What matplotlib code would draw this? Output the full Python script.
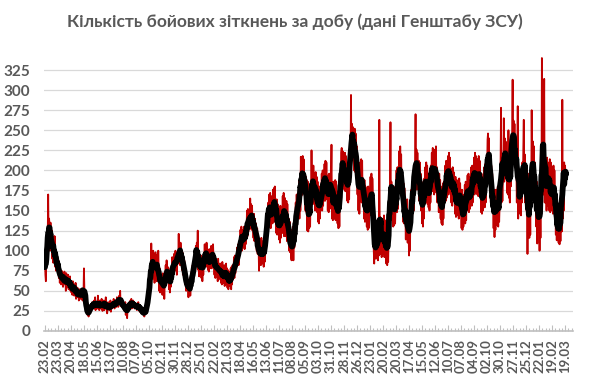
"""
Кількість бойових зіткнень за добу (дані Генштабу ЗСУ)
Денні значення + ковзне середнє за 7 днів
"""
import numpy as np
import pandas as pd
import matplotlib.pyplot as plt

# =========================================================
# ДАНІ (зіткнення за добу, з 23.02.2023)
# =========================================================

start_date = '2023-02-23'

clashes_2023 = [
    98, 70, 62, 88, 100, 85, 120,
    170, 110, 140, 128, 100, 135, 118,
    105, 125, 90, 112, 85, 118, 95,
    118, 80, 92, 75, 98, 84, 90,
    72, 88, 66, 82, 60, 76, 70,
    58, 75, 62, 72, 55, 70, 64,
    74, 58, 66, 50, 72, 60, 68,
    55, 70, 52, 64, 58, 68, 50,
    62, 48, 58, 45, 62, 52, 58,
    44, 55, 48, 60, 40, 52, 46,
    54, 42, 50, 38, 52, 46, 48,
    40, 52, 44, 50, 38, 48, 45,
    78, 50, 42, 46, 36, 30, 28,
    22, 20, 24, 18, 26, 22, 28,
    30, 26, 34, 28, 36, 30, 32,
    28, 38, 30, 42, 26, 34, 30,
    36, 28, 44, 30, 34, 26, 38,
    30, 35, 28, 40, 32, 25, 36,
    32, 38, 26, 34, 30, 42, 28,
    34, 22, 30, 36, 28, 32, 26,
    30, 38, 24, 32, 28, 36, 30,
    34, 40, 30, 28, 36, 32, 38,
    30, 42, 34, 38, 30, 36, 44,
    38, 50, 32, 36, 30, 40, 34,
    30, 34, 26, 32, 28, 36, 20,
    26, 30, 16, 28, 34, 26, 30,
    36, 30, 38, 32, 40, 28, 34,
    32, 38, 30, 36, 28, 34, 32,
    28, 34, 26, 32, 30, 36, 28,
    30, 24, 32, 26, 30, 28, 24,
    22, 26, 20, 24, 18, 26, 22,
    24, 28, 22, 30, 36, 40, 48,
    45, 62, 50, 75, 58, 109, 70,
    95, 65, 100, 72, 92, 60, 88,
    98, 68, 86, 62, 95, 70, 100,
    72, 50, 78, 48, 70, 55, 66,
    68, 45, 72, 50, 66, 40, 62,
    60, 82, 58, 88, 62, 80, 70,
    78, 52, 72, 48, 70, 55, 66,
    68, 92, 66, 88, 72, 96, 80,
    75, 100, 78, 96, 70, 98, 88,
    84, 121, 86, 108, 82, 110, 96,
    100, 76, 98, 70, 92, 74, 88,
    80, 58, 72, 50, 66, 52, 62,
    64, 42, 60, 46,
]

clashes_2024 = [
    66, 44, 58,
    52, 74, 58, 82, 64, 86, 70,
    76, 98, 84, 106, 88, 110, 95,
    125, 76, 90, 68, 88, 72, 84,
    94, 66, 90, 62, 88, 70, 96,
    82, 108, 84, 104, 80, 110, 92,
    100, 76, 96, 74, 102, 78, 90,
    84, 106, 78, 104, 86, 108, 88,
    96, 70, 92, 66, 90, 72, 86,
    88, 62, 90, 64, 84, 66, 82,
    84, 60, 82, 58, 86, 62, 78,
    60, 82, 56, 80, 58, 84, 70,
    78, 54, 76, 52, 74, 56, 70,
    56, 78, 52, 80, 58, 82, 64,
    70, 92, 66, 94, 72, 90, 82,
    80, 104, 84, 108, 82, 106, 98,
    100, 126, 104, 130, 100, 124, 110,
    126, 104, 130, 102, 128, 108, 122,
    120, 150, 118, 152, 124, 148, 130,
    130, 165, 128, 158, 126, 156, 130,
    144, 116, 146, 112, 140, 118, 134,
    124, 100, 128, 96, 118, 104, 75,
    112, 84, 114, 82, 116, 90, 106,
    84, 112, 80, 116, 86, 114, 96,
    112, 140, 118, 150, 128, 160, 150,
    170, 130, 172, 128, 168, 136, 146,
    134, 176, 140, 178, 136, 180, 154,
    160, 122, 164, 120, 158, 126, 144,
    114, 154, 110, 156, 116, 150, 138,
    122, 168, 126, 172, 118, 166, 136,
    160, 118, 162, 112, 158, 120, 138,
    140, 100, 136, 98, 120, 92, 88,
    126, 92, 130, 88, 128, 104, 124,
    120, 160, 126, 170, 132, 168, 148,
    146, 186, 140, 190, 150, 217, 168,
    212, 170, 218, 176, 214, 182, 196,
    196, 150, 192, 148, 188, 125, 186,
    124, 164, 128, 160, 130, 172, 150,
    225, 160, 204, 158, 206, 162, 190,
    196, 150, 198, 154, 192, 148, 186,
    136, 178, 134, 180, 140, 176, 150,
    152, 196, 150, 200, 156, 198, 176,
    208, 162, 212, 166, 210, 164, 190,
    150, 194, 148, 196, 152, 190, 168,
    190, 232, 140, 180, 138, 186, 150,
    184, 140, 188, 138, 186, 144, 166,
    134, 174, 128, 170, 130, 176, 160,
    180, 222, 228, 176, 224, 180, 214,
    220, 176, 222, 174, 218, 178, 196,
    162, 206, 160, 208, 164, 204, 196,
    210, 294, 212, 258, 214, 254, 230,
    250, 200, 252, 198, 246, 202, 220,
    230, 170, 210, 150, 196, 146,
]

clashes_2025 = [
    180,
    210, 164, 214, 160, 212, 168, 190,
    184, 140, 188, 136, 180, 142, 166,
    130, 178, 126, 180, 128, 176, 150,
    148, 192, 144, 196, 150, 190, 170,
    150, 100, 84, 120, 90, 118, 96,
    130, 90, 132, 88, 136, 94, 263,
    100, 142, 96, 140, 92, 130, 104,
    140, 96, 144, 92, 138, 100, 118,
    84, 126, 82, 128, 86, 120, 110,
    132, 176, 260, 140, 186, 138, 180,
    176, 130, 180, 132, 178, 134, 156,
    150, 200, 148, 204, 152, 198, 180,
    224, 176, 230, 178, 220, 172, 190,
    180, 136, 184, 134, 178, 140, 150,
    114, 160, 116, 164, 110, 150, 120,
    94, 146, 100, 152, 130, 176, 150,
    186, 146, 190, 150, 206, 170, 210,
    270, 180, 226, 176, 222, 180, 200,
    212, 162, 210, 160, 196, 150, 180,
    134, 180, 130, 186, 140, 190, 170,
    204, 160, 210, 162, 206, 158, 184,
    154, 196, 150, 200, 160, 206, 190,
    222, 174, 228, 176, 224, 170, 210,
    226, 178, 230, 172, 204, 160, 194,
    190, 148, 196, 150, 188, 140, 170,
    134, 180, 132, 184, 140, 186, 170,
    160, 206, 162, 212, 166, 208, 186,
    218, 170, 222, 174, 216, 176, 196,
    160, 202, 156, 204, 162, 198, 178,
    190, 146, 192, 142, 188, 148, 166,
    144, 188, 140, 190, 146, 184, 162,
    172, 128, 176, 126, 170, 130, 150,
    136, 182, 134, 186, 138, 180, 160,
    194, 150, 196, 148, 192, 152, 170,
    158, 204, 156, 206, 160, 200, 180,
    216, 170, 222, 172, 218, 174, 196,
    170, 214, 168, 218, 172, 212, 190,
    194, 148, 196, 146, 192, 150, 170,
    158, 204, 154, 208, 160, 200, 180,
    196, 238, 246, 194, 240, 198, 218,
    204, 160, 206, 156, 196, 150, 170,
    128, 172, 117, 176, 126, 170, 150,
    176, 132, 180, 130, 178, 136, 156,
    158, 204, 278, 160, 206, 162, 200,
    190, 265, 186, 240, 190, 236, 212,
    220, 172, 224, 170, 250, 166, 184,
    160, 210, 180, 236, 206, 250, 313,
    210, 262, 208, 258, 204, 236, 200,
    214, 160, 206, 280, 140, 196, 150,
    196, 146, 198, 144, 200, 160, 210,
    176, 226, 263, 172, 220, 160, 200,
    206, 150, 204, 96, 196, 130, 180,
]

clashes_2026 = [
    116, 176, 120, 200, 160, 275, 200,
    180, 236, 176, 230, 160, 210, 150,
    184, 130, 186, 109, 176, 124, 160,
    164, 100, 160, 116, 176, 150, 340,
    180, 236, 170, 226, 314, 160, 210,
    160, 212, 150, 216, 156, 210, 180,
    206, 150, 214, 148, 210, 152, 184,
    150, 204, 146, 206, 152, 200, 166,
    176, 120, 170, 113, 160, 114, 136,
    110, 154, 108, 156, 112, 150, 140,
    124, 288, 140, 196, 150, 210, 190,
    206, 186, 200,
]

y_ticks = [0, 25, 50, 75, 100, 125, 150, 175, 200, 225, 250, 275, 300, 325]
label_step = 28  # підпис кожні 4 тижні

# =========================================================
# ПІДГОТОВКА
# =========================================================

daily = pd.Series(clashes_2023 + clashes_2024 + clashes_2025 + clashes_2026, dtype=float)
dates = pd.date_range(start_date, periods=len(daily), freq='D')
avg7 = daily.rolling(7, center=True, min_periods=1).mean()
x = np.arange(len(daily))

text_color = '#595959'

# =========================================================
# ГРАФІК
# =========================================================

fig = plt.figure(figsize=(5.9, 3.75), dpi=100)
ax = fig.add_axes([44 / 590, 44 / 375, 529 / 590, 277 / 375])

ax.plot(x, daily, color='#c00000', linewidth=1.3, zorder=2)
ax.plot(x, avg7, color='black', linewidth=4.2, solid_capstyle='round',
        solid_joinstyle='round', zorder=3)

ax.set_xlim(-2, 1137)
ax.set_ylim(0, 345)
ax.set_yticks(y_ticks)
ax.grid(axis='y', color='#d9d9d9', linewidth=0.9, zorder=0)
ax.set_axisbelow(True)

tick_pos = x[::label_step]
ax.set_xticks(tick_pos)
ax.set_xticklabels([d.strftime('%d.%m') for d in dates[::label_step]], rotation=90)
ax.set_xticks(np.arange(0, 1137, 7), minor=True)

for side in ['top', 'right', 'left']:
    ax.spines[side].set_visible(False)
ax.spines['bottom'].set_color('#bfbfbf')
ax.spines['bottom'].set_linewidth(1.2)

ax.tick_params(axis='y', length=0, pad=10, labelsize=11, labelcolor=text_color)
ax.tick_params(axis='x', which='major', direction='in', length=4, width=0.8,
               color='#bfbfbf', pad=6, labelsize=9.5, labelcolor=text_color)
ax.tick_params(axis='x', which='minor', direction='in', length=2.5, width=0.8,
               color='#bfbfbf')
for lbl in ax.get_xticklabels() + ax.get_yticklabels():
    lbl.set_fontweight('bold')
    lbl.set_family('Lato')

fig.text(0.5, 1 - 22 / 375, 'Кількість бойових зіткнень за добу (дані Генштабу ЗСУ)',
         ha='center', va='center', fontsize=12.5, fontweight='bold',
         color=text_color, family='Lato')

plt.savefig('out.png', dpi=100)
plt.close()
